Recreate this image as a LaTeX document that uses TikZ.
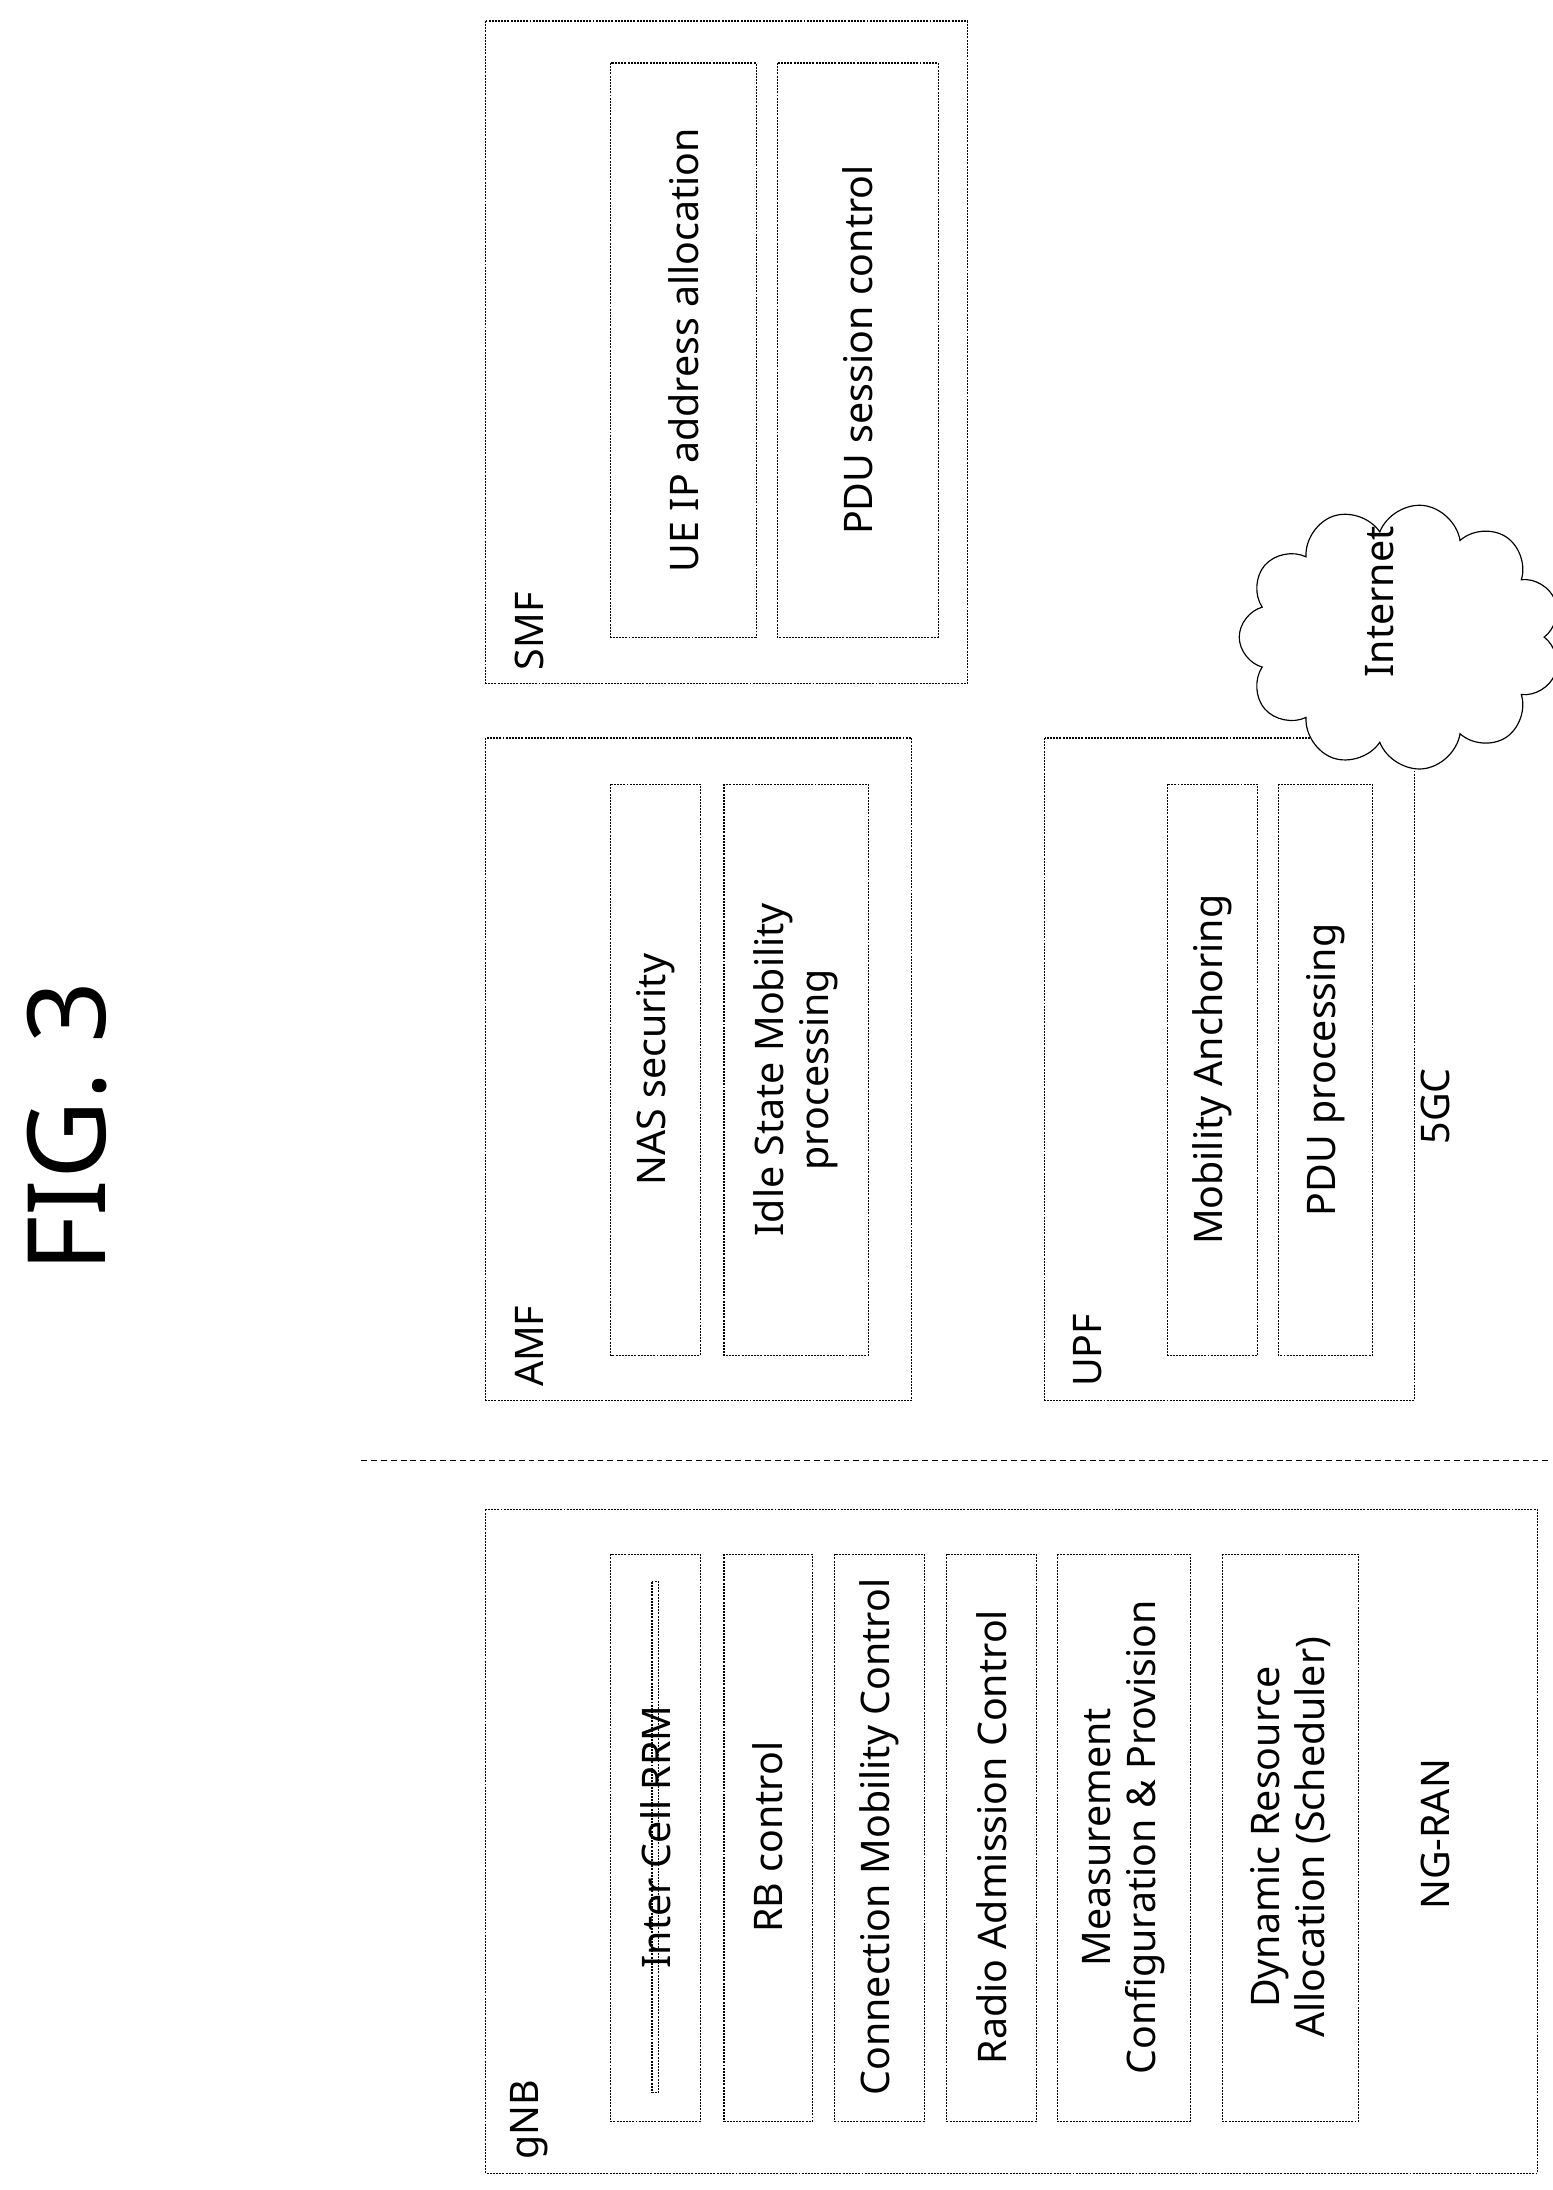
\documentclass[tikz,border=0pt]{standalone}
\usepackage{fontspec}
\setmainfont{Noto Sans}
\usetikzlibrary{shapes.symbols}
\tikzset{
  frame/.style={draw,line width=1.2pt,dash pattern=on 2pt off 1.2pt},
  func/.style={frame,rotate=90,align=center,font=\fontsize{40}{46}\selectfont},
  tag/.style={rotate=90,font=\fontsize{40}{46}\selectfont}
}
\begin{document}
\begin{tikzpicture}[x=0.05cm,y=-0.05cm]
\useasboundingbox (0,0) rectangle (1109,1564);

\node[rotate=90,font=\fontsize{110}{120}\selectfont] (fig) at (48,805) {FIG. 3};
\coordinate (dl) at (258,1043);
\coordinate (dr) at (1108,1043);
\draw[line width=1.5pt,dash pattern=on 6pt off 4pt] (dl) -- (dr);

% gNB
\draw[frame] (347,1078) rectangle (1098,1552);
\node[tag,anchor=west] (gnb) at (378,1545) {gNB};
\node[func,minimum width=405\pgflinewidth,text width=18cm] (b1) at (468,1312) {};
\foreach \n/\xa/\xb/\t in {1/436/500/{Inter Cell RRM},2/517/580/{RB control},3/596/660/{Connection Mobility Control},4/676/740/{Radio Admission Control},5/755/850/{Measurement\\Configuration \& Provision},6/873/970/{Dynamic Resource\\Allocation (Scheduler)}}
{
\draw[frame] (\xa,1110) rectangle (\xb,1515);
\node[tag,align=center] (g\n) at ({(\xa+\xb)/2},1312) {\t};
}

% AMF
\draw[frame] (347,527) rectangle (651,1000);
\node[tag,anchor=west] (amf) at (378,993) {AMF};
\foreach \n/\xa/\xb/\t in {1/436/500/{NAS security},2/517/620/{Idle State Mobility\\processing}}
{
\draw[frame] (\xa,560) rectangle (\xb,968);
\node[tag,align=center] (a\n) at ({(\xa+\xb)/2},764) {\t};
}

% UPF
\draw[frame] (746,527) rectangle (1010,1000);
\node[tag,anchor=west] (upf) at (777,993) {UPF};
\foreach \n/\xa/\xb/\t in {1/834/898/{Mobility Anchoring},2/913/980/{PDU processing}}
{
\draw[frame] (\xa,560) rectangle (\xb,968);
\node[tag,align=center] (u\n) at ({(\xa+\xb)/2},764) {\t};
}

% SMF
\draw[frame] (347,15) rectangle (691,488);
\node[tag,anchor=west] (smf) at (378,481) {SMF};
\foreach \n/\xa/\xb/\t in {1/436/540/{UE IP address allocation},2/555/670/{PDU session control}}
{
\draw[frame] (\xa,45) rectangle (\xb,455);
\node[tag,align=center] (s\n) at ({(\xa+\xb)/2},250) {\t};
}

\node[cloud,cloud puffs=11,draw,fill=white,line width=1.2pt,rotate=90,
  minimum width=9.5cm,minimum height=11.5cm] (net) at (1000,455) {};
\node[tag] (nett) at (985,430) {Internet};

\node[tag] (gc) at (1025,790) {5GC};
\node[tag] (ran) at (1025,1310) {NG-RAN};
\end{tikzpicture}
\end{document}
